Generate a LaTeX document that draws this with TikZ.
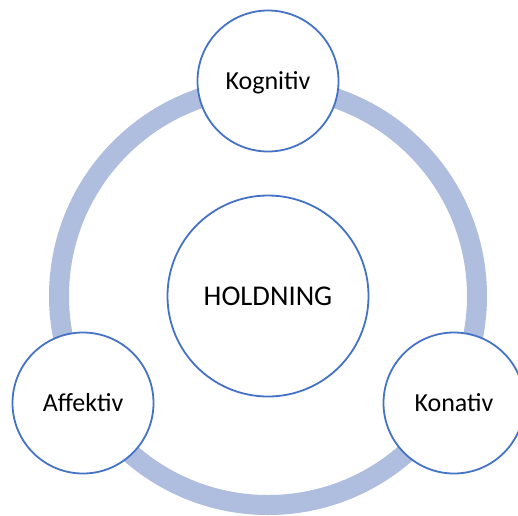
\documentclass[tikz,border=0pt]{standalone}
\usepackage{fontspec}
\setmainfont{Carlito}
\definecolor{ringblue}{HTML}{AFBDDE}
\definecolor{edgeblue}{HTML}{4472C4}
\begin{document}
\begin{tikzpicture}[x=1pt,y=-1pt,
  part/.style={circle, draw=edgeblue, line width=1.8pt, fill=white,
    minimum size=141pt, inner sep=0pt,
    font=\fontsize{26}{30}\selectfont, text height=16.7pt, text depth=0pt},
  core/.style={part, minimum size=201pt,
    font=\fontsize{28.6}{34}\selectfont, text height=18.4pt},
  cycle/.style={draw=ringblue, line width=20pt}]
\useasboundingbox (0,0) rectangle (518,515);
\clip (0,0) rectangle (518,515);
% connecting ring behind the three components
\coordinate (c) at (268,296);
\draw[cycle] (c) circle[radius=209];
% centre and components
\node[core] (hold) at (c) {HOLDNING};
\node[part] (kog) at (268,81) {Kognitiv};
\node[part] (aff) at (83,403) {Affektiv};
\node[part] (kon) at (454,403) {Konativ};
\end{tikzpicture}
\end{document}
